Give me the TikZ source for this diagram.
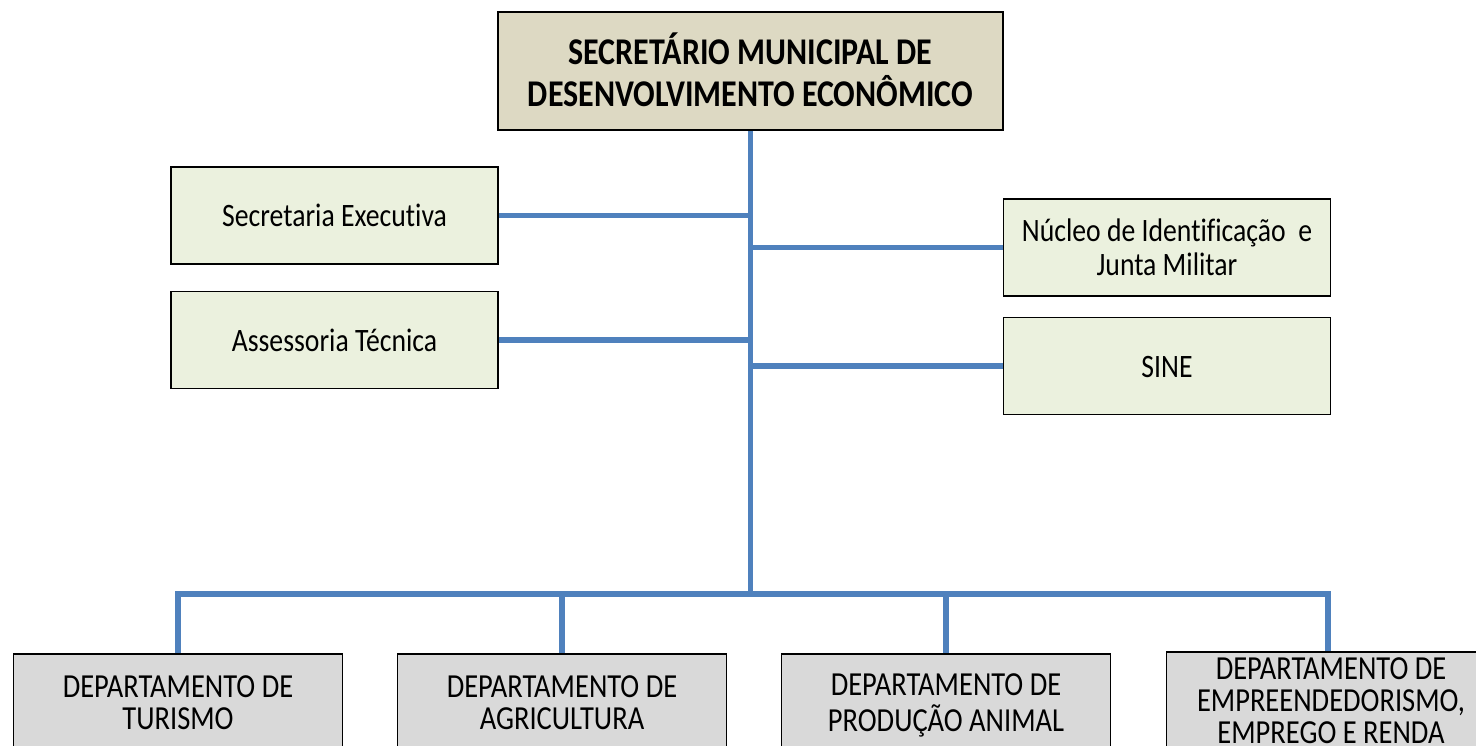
\documentclass[tikz,border=0pt]{standalone}
\usepackage{fontspec}
\setmainfont{Carlito}[Ligatures=NoCommon]
\usepackage{graphicx}
\usepackage{tikz}
\definecolor{tan}{HTML}{DDD9C3}
\definecolor{lightgreen}{HTML}{EBF1DE}
\definecolor{lightgray}{HTML}{D9D9D9}
\definecolor{linkblue}{HTML}{4F81BD}
% text is drawn a little taller than wide, as in the scanned chart
\newcommand{\tall}[1]{\raisebox{-4.5pt}[\height][\depth]{%
  \scalebox{1}[1.18]{\begin{tabular}{@{}c@{}}#1\end{tabular}}}}

\begin{document}
\begin{tikzpicture}[x=1pt, y=-1pt,
  box/.style={draw=black, line width=1.6pt, align=center, inner sep=0pt,
    font=\fontsize{27.7}{29}\selectfont},
  headbox/.style={box, fill=tan, minimum width=505pt, minimum height=118pt,
    font=\fontsize{32}{33}\selectfont\bfseries},
  staffbox/.style={box, fill=lightgreen, minimum width=327pt, minimum height=97pt},
  deptbox/.style={box, fill=lightgray, minimum width=329pt, minimum height=97pt,
    font=\fontsize{28.5}{27}\selectfont},
  link/.style={draw=linkblue, line width=5.5pt}]
  % Frame of the picture
  \useasboundingbox (0,0) rectangle (1476,745);
  \clip (0,0) rectangle (1476,745);

  % Head of the chart
  \node[headbox] (sec) at (750.5,71) {\tall{SECRETÁRIO MUNICIPAL DE\\DESENVOLVIMENTO ECONÔMICO}};

  % Staff units
  \node[staffbox] (exec) at (334.5,215.5) {\tall{Secretaria Executiva}};
  \node[staffbox] (assess) at (334.5,340) {\tall{Assessoria Técnica}};
  \node[staffbox] (nucleo) at (1167,247.5) {\tall{Núcleo de Identificação\ \ e\\Junta Militar}};
  \node[staffbox] (sine) at (1167,366) {\tall{SINE}};

  % Departments
  \node[deptbox] (turismo) at (178,702.5) {\tall{DEPARTAMENTO DE\\TURISMO}};
  \node[deptbox] (agri) at (562,702.5) {\tall{DEPARTAMENTO DE\\AGRICULTURA}};
  \node[deptbox] (animal) at (946,702.5) {\tall{DEPARTAMENTO DE\\PRODUÇÃO ANIMAL}};
  \node[deptbox] (renda) at (1331,700.5) {\tall{DEPARTAMENTO DE\\EMPREENDEDORISMO,\\EMPREGO E RENDA}};

  % Connectors
  \coordinate (bus) at (750.5,594);
  \path[link] (sec.south) -- (bus);
  \path[link] (exec.east) -- (exec.east -| sec.south);
  \path[link] (assess.east) -- (assess.east -| sec.south);
  \path[link] (nucleo.west) -- (nucleo.west -| sec.south);
  \path[link] (sine.west) -- (sine.west -| sec.south);
  \path[link] (turismo.north) |- (bus) -| ([xshift=-3pt]renda.north);
  \path[link] (agri.north) -- (agri.north |- bus);
  \path[link] (animal.north) -- (animal.north |- bus);
\end{tikzpicture}
\end{document}
